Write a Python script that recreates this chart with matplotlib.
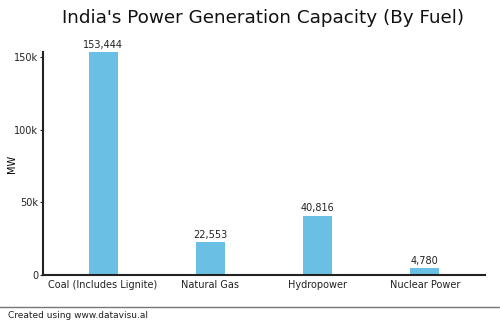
import matplotlib.pyplot as plt
from matplotlib.ticker import FuncFormatter
from matplotlib.lines import Line2D

fuels = ['Coal (Includes Lignite)', 'Natural Gas', 'Hydropower', 'Nuclear Power']
capacity_mw = [153444, 22553, 40816, 4780]
ytick_vals = [0, 50000, 100000, 150000]

fig = plt.figure(figsize=(5, 3.23), dpi=100)
ax = fig.add_axes([0.086, 0.149, 0.884, 0.69])

x = range(len(fuels))
bars = ax.bar(x, capacity_mw, width=0.27, color='#69bfe4')
for xi, v in zip(x, capacity_mw):
    ax.text(xi, v + 1500, '{:,}'.format(v), ha='center', va='bottom', fontsize=7, color='#222222')

ax.set_xlim(-0.56, 3.56)
ax.set_ylim(0, max(capacity_mw))
ax.set_xticks(list(x))
ax.set_xticklabels(fuels, fontsize=7, color='#222222')
ax.set_yticks(ytick_vals)
ax.yaxis.set_major_formatter(FuncFormatter(lambda v, p: '0' if v == 0 else '{:g}k'.format(v / 1000)))
ax.tick_params(axis='y', labelsize=7, colors='#222222', length=2, pad=1.5)
ax.tick_params(axis='x', length=0, pad=4)
ax.set_ylabel('MW', fontsize=7)
ax.yaxis.set_label_coords(-0.058, 0.5)

for s in ['top', 'right']:
    ax.spines[s].set_visible(False)
for s in ['left', 'bottom']:
    ax.spines[s].set_linewidth(1.5)
    ax.spines[s].set_color('#222222')

fig.text(0.527, 0.945, "India's Power Generation Capacity (By Fuel)", ha='center', va='center', fontsize=13.2, color='#111111')

fig.add_artist(Line2D([0, 1], [0.05, 0.05], transform=fig.transFigure, color='#777777', linewidth=1))
fig.text(0.016, 0.022, 'Created using www.datavisu.al', fontsize=6.5, va='center', color='#222222')

fig.savefig('out.png', dpi=100)
